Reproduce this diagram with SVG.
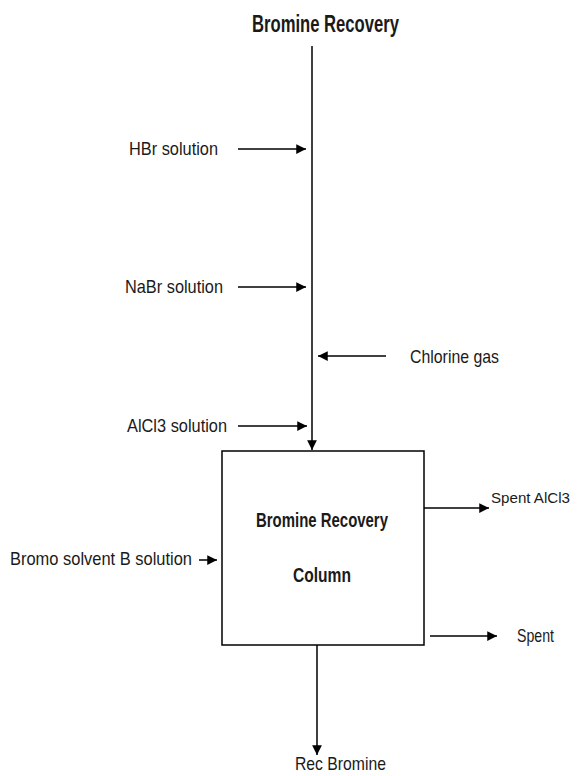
<svg xmlns="http://www.w3.org/2000/svg" width="577" height="776" viewBox="0 0 577 776">
<style>
.t{font-family:"Liberation Sans",Arial,sans-serif;font-size:19px;fill:#1a1a1a}
.h{font-family:"Liberation Sans",Arial,sans-serif;font-weight:bold;font-size:23px;fill:#1a1a1a}
.k{font-family:"Liberation Sans",Arial,sans-serif;font-weight:bold;font-size:20px;fill:#1a1a1a}
.s{font-family:"Liberation Sans",Arial,sans-serif;font-size:15px;fill:#1a1a1a}
.c{stroke:#000;stroke-width:1.5;fill:none}
</style>
<defs>
<marker id="ah" viewBox="0 0 10 10" refX="10" refY="5" markerWidth="6.5" markerHeight="6.5" markerUnits="strokeWidth" orient="auto">
<path d="M0,0 L10,5 L0,10 z" fill="#000"/>
</marker>
</defs>
<rect width="577" height="776" fill="#fff"/>
<g id="title"><text class="h" x="252" y="32" textLength="147" lengthAdjust="spacingAndGlyphs">Bromine Recovery</text></g>
<g id="column">
<rect x="222" y="451" width="202" height="194" fill="#fff" stroke="#000" stroke-width="1.5"/>
<text class="k" x="256" y="527" textLength="132" lengthAdjust="spacingAndGlyphs">Bromine Recovery</text>
<text class="k" x="293" y="582" textLength="58" lengthAdjust="spacingAndGlyphs">Column</text>
</g>
<g id="hbr"><text class="t" x="129" y="155" textLength="89" lengthAdjust="spacingAndGlyphs">HBr solution</text></g>
<g id="nabr"><text class="t" x="125" y="293" textLength="98" lengthAdjust="spacingAndGlyphs">NaBr solution</text></g>
<g id="chlorine"><text class="t" x="410" y="363" textLength="89" lengthAdjust="spacingAndGlyphs">Chlorine gas</text></g>
<g id="alcl3"><text class="t" x="127" y="432" textLength="100" lengthAdjust="spacingAndGlyphs">AlCl3 solution</text></g>
<g id="bromo"><text class="t" x="10" y="565" textLength="182" lengthAdjust="spacingAndGlyphs">Bromo solvent B solution</text></g>
<g id="spentalcl3"><text class="s" x="491" y="503" textLength="79" lengthAdjust="spacingAndGlyphs">Spent AlCl3</text></g>
<g id="spent"><text class="t" x="517" y="642" textLength="37" lengthAdjust="spacingAndGlyphs">Spent</text></g>
<g id="recbromine"><text class="t" x="295" y="770" textLength="91" lengthAdjust="spacingAndGlyphs">Rec Bromine</text></g>
<g id="connectors">
<line class="c" x1="312" y1="46" x2="312" y2="450" marker-end="url(#ah)"/>
<line class="c" x1="238" y1="149" x2="306" y2="149" marker-end="url(#ah)"/>
<line class="c" x1="238" y1="287" x2="306" y2="287" marker-end="url(#ah)"/>
<line class="c" x1="386" y1="356" x2="318" y2="356" marker-end="url(#ah)"/>
<line class="c" x1="238" y1="426" x2="307" y2="426" marker-end="url(#ah)"/>
<line class="c" x1="199" y1="560" x2="217" y2="560" marker-end="url(#ah)"/>
<line class="c" x1="424" y1="508" x2="489" y2="508" marker-end="url(#ah)"/>
<line class="c" x1="430" y1="636" x2="497" y2="636" marker-end="url(#ah)"/>
<line class="c" x1="317" y1="645" x2="317" y2="755" marker-end="url(#ah)"/>
</g>
</svg>
